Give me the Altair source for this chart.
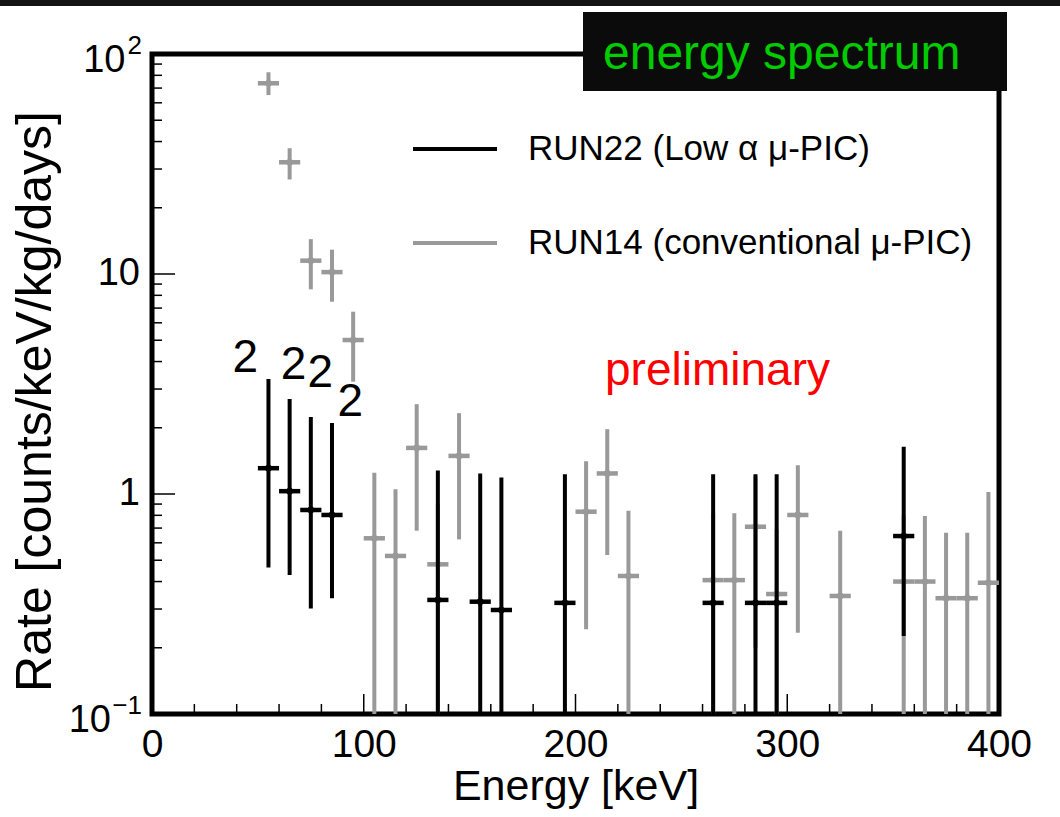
import altair as alt
import pandas as pd

FONT = "Liberation Sans"

# ---------------- data ----------------
legend_names = ["RUN22 (Low α μ-PIC)", "RUN14 (conventional μ-PIC)"]
series_colors = ["#000000", "#999999"]
bin_width = 10

E_run22 = [55, 65, 75, 85, 135, 155, 165, 195, 265, 285, 295, 355]
rate_run22 = [1.31, 1.03, 0.846, 0.803, 0.33, 0.324, 0.297, 0.32, 0.32, 0.32, 0.32, 0.644]
hi_run22 = [3.33, 2.70, 2.24, 2.10, 1.28, 1.24, 1.19, 1.23, 1.23, 1.23, 1.23, 1.64]
lo_run22 = [0.463, 0.428, 0.302, 0.336, 0.01, 0.01, 0.01, 0.01, 0.01, 0.01, 0.01, 0.226]

E_run14 = [55, 65, 75, 85, 95, 105, 115, 125, 135, 145, 205, 215, 225, 265, 275, 285,
           295, 305, 325, 355, 365, 375, 385, 395]
rate_run14 = [73.6, 32.2, 11.5, 10.2, 5.01, 0.629, 0.523, 1.62, 0.479, 1.49, 0.831, 1.24,
              0.424, 0.406, 0.406, 0.71, 0.351, 0.803, 0.344, 0.40, 0.40, 0.336, 0.336, 0.395]
hi_run14 = [82.6, 37.3, 14.4, 12.9, 6.74, 1.25, 1.05, 2.56, 0.9, 2.33, 1.41, 1.97,
            0.84, 0.82, 0.817, 1.2, 0.69, 1.35, 0.681, 0.8, 0.794, 0.667, 0.667, 1.02]
lo_run14 = [65.1, 26.9, 8.52, 7.48, 3.24, 0.01, 0.01, 0.681, 0.01, 0.622, 0.243, 0.528,
            0.01, 0.01, 0.01, 0.2, 0.01, 0.234, 0.01, 0.01, 0.01, 0.01, 0.01, 0.01]

# "2" annotations (energy, rate)
note_E = [44.1, 66.8, 79.5, 93.7]
note_rate = [4.15, 3.86, 3.55, 2.62]
note_text = ["2", "2", "2", "2"]

x_major = [0, 100, 200, 300, 400]
x_minor = [20, 40, 60, 80, 120, 140, 160, 180, 220, 240, 260, 280, 320, 340, 360, 380]
y_major = [0.1, 1, 10, 100]
y_minor = [0.2, 0.3, 0.4, 0.5, 0.6, 0.7, 0.8, 0.9,
           2, 3, 4, 5, 6, 7, 8, 9,
           20, 30, 40, 50, 60, 70, 80, 90]
y_label_base = ["10", "1", "10", "10"]
y_label_exp = ["−1", "", "", "2"]

x_title = "Energy [keV]"
y_title = "Rate [counts/keV/kg/days]"
title_text = ["energy spectrum"]
prelim_text = ["preliminary"]

# ---------------- tables ----------------
df = pd.DataFrame({
    "series": [legend_names[1]] * len(E_run14) + [legend_names[0]] * len(E_run22),
    "E": E_run14 + E_run22,
    "rate": rate_run14 + rate_run22,
    "lo": lo_run14 + lo_run22,
    "hi": hi_run14 + hi_run22,
})
notes = pd.DataFrame({"E": note_E, "rate": note_rate, "t": note_text})
xmaj = pd.DataFrame({"v": x_major})
xmin = pd.DataFrame({"v": x_minor})
ymaj = pd.DataFrame({"v": y_major})
ymin = pd.DataFrame({"v": y_minor})
ylab = pd.DataFrame({"v": y_major, "base": y_label_base, "exp": y_label_exp})
leg = pd.DataFrame({"series": legend_names})
one = pd.DataFrame({"t": title_text})
pre = pd.DataFrame({"t": prelim_text})

W, H = 847, 660

xscale = alt.Scale(domain=[0, 400], nice=False, zero=False)
yscale = alt.Scale(type="log", domain=[0.1, 100], nice=False, clamp=True)
cscale = alt.Scale(domain=legend_names, range=series_colors)

xaxis = alt.Axis(values=x_major, format="d", ticks=False, domain=False, grid=False,
                 labelFontSize=39, labelFont=FONT, labelColor="black", labelPadding=11,
                 labelFlush=False, titleFontSize=43, titleFont=FONT, titleFontWeight="normal",
                 titleColor="black", titleBaseline="alphabetic", titleY=85)
yaxis = alt.Axis(labels=False, ticks=False, domain=False, grid=False,
                 titleFontSize=50, titleFont=FONT, titleFontWeight="normal",
                 titleColor="black", titleBaseline="alphabetic", titleAlign="center",
                 titleAngle=270, titleX=-102, titleY=H / 2 + 17)


def X(field):
    return alt.X(field, scale=xscale, axis=xaxis, title=x_title)


def Y(field):
    return alt.Y(field, scale=yscale, axis=yaxis, title=y_title)


layers = []

# slide decorations: top band + title box
layers.append(alt.Chart(one).mark_rect(color="#141414").encode(
    x=alt.value(-152), x2=alt.value(908), y=alt.value(-54), y2=alt.value(-48)))
layers.append(alt.Chart(one).mark_rect(color="#0b0b0b").encode(
    x=alt.value(431), x2=alt.value(855), y=alt.value(-42), y2=alt.value(37)))
layers.append(alt.Chart(one).mark_text(font=FONT, fontSize=48, color="#00cc00", align="left",
                                       baseline="alphabetic").encode(
    x=alt.value(451), y=alt.value(15), text="t:N"))

# ticks (inward)
layers.append(alt.Chart(xmaj).mark_rule(color="black", strokeWidth=1.5).encode(
    x=X("v:Q"), y=alt.value(H), y2=alt.value(H - 20)))
layers.append(alt.Chart(xmin).mark_rule(color="black", strokeWidth=1.5).encode(
    x=X("v:Q"), y=alt.value(H), y2=alt.value(H - 10)))
layers.append(alt.Chart(ymaj).mark_rule(color="black", strokeWidth=1.5).encode(
    y=Y("v:Q"), x=alt.value(0), x2=alt.value(23)))
layers.append(alt.Chart(ymin).mark_rule(color="black", strokeWidth=1.5).encode(
    y=Y("v:Q"), x=alt.value(0), x2=alt.value(10)))

# y tick labels with exponents
ylab_base = alt.Chart(ylab).transform_calculate(px="-12 - 14.5*length(datum.exp)")
layers.append(ylab_base.transform_filter("length(datum.exp) == 0").mark_text(
    font=FONT, fontSize=38, align="right", baseline="middle", color="black").encode(
    y=Y("v:Q"), x=alt.X("px:Q", scale=None), text="base:N"))
layers.append(ylab_base.transform_filter("length(datum.exp) > 0").mark_text(
    font=FONT, fontSize=38, align="right", baseline="middle", color="black", dy=7).encode(
    y=Y("v:Q"), x=alt.X("px:Q", scale=None), text="base:N"))
layers.append(ylab_base.transform_filter("length(datum.exp) > 0").mark_text(
    font=FONT, fontSize=26, align="right", baseline="middle", color="black", dy=-8).encode(
    y=Y("v:Q"), x=alt.value(-10), text="exp:N"))

# data series: gray first, black on top
for name in [legend_names[1], legend_names[0]]:
    b = alt.Chart(df).transform_filter(alt.datum.series == name)
    col = alt.Color("series:N", scale=cscale, legend=None)
    layers.append(b.mark_rule(strokeWidth=4, clip=True).encode(
        x=X("E:Q"), y=Y("lo:Q"), y2="hi:Q", color=col))
    layers.append(b.transform_calculate(xl=f"datum.E - {bin_width}/2",
                                        xr=f"datum.E + {bin_width}/2")
                  .mark_rule(strokeWidth=4.5).encode(
        x=X("xl:Q"), x2="xr:Q", y=Y("rate:Q"), color=col))
    layers.append(b.mark_point(filled=True, size=45, opacity=1, shape="circle").encode(
        x=X("E:Q"), y=Y("rate:Q"), color=col))

# "2" annotations
layers.append(alt.Chart(notes).mark_text(font=FONT, fontSize=46, color="black",
                                         baseline="middle", align="center").encode(
    x=X("E:Q"), y=Y("rate:Q"), text="t:N"))

# preliminary
layers.append(alt.Chart(pre).mark_text(font=FONT, fontSize=46, color="#ff0000", align="left",
                                       baseline="alphabetic").encode(
    x=alt.value(453), y=alt.value(331), text="t:N"))

# legend
legb = alt.Chart(leg).transform_window(idx="row_number()").transform_calculate(
    ly="95 + 94*(datum.idx - 1)")
layers.append(legb.mark_rule(strokeWidth=4).encode(
    x=alt.value(261), x2=alt.value(345), y=alt.Y("ly:Q", scale=None),
    color=alt.Color("series:N", scale=cscale, legend=None)))
layers.append(legb.mark_text(font=FONT, fontSize=35, align="left", baseline="middle",
                             color="black").encode(
    x=alt.value(376), y=alt.Y("ly:Q", scale=None), text="series:N"))

chart = alt.layer(*layers).properties(
    width=W, height=H,
    autosize=alt.AutoSizeParams(type="none"),
    padding={"left": 152, "top": 54, "right": 61, "bottom": 103},
    background="white",
).configure_view(stroke="black", strokeWidth=5)

chart.save("out.html", embed_options={"renderer": "svg", "actions": False})
